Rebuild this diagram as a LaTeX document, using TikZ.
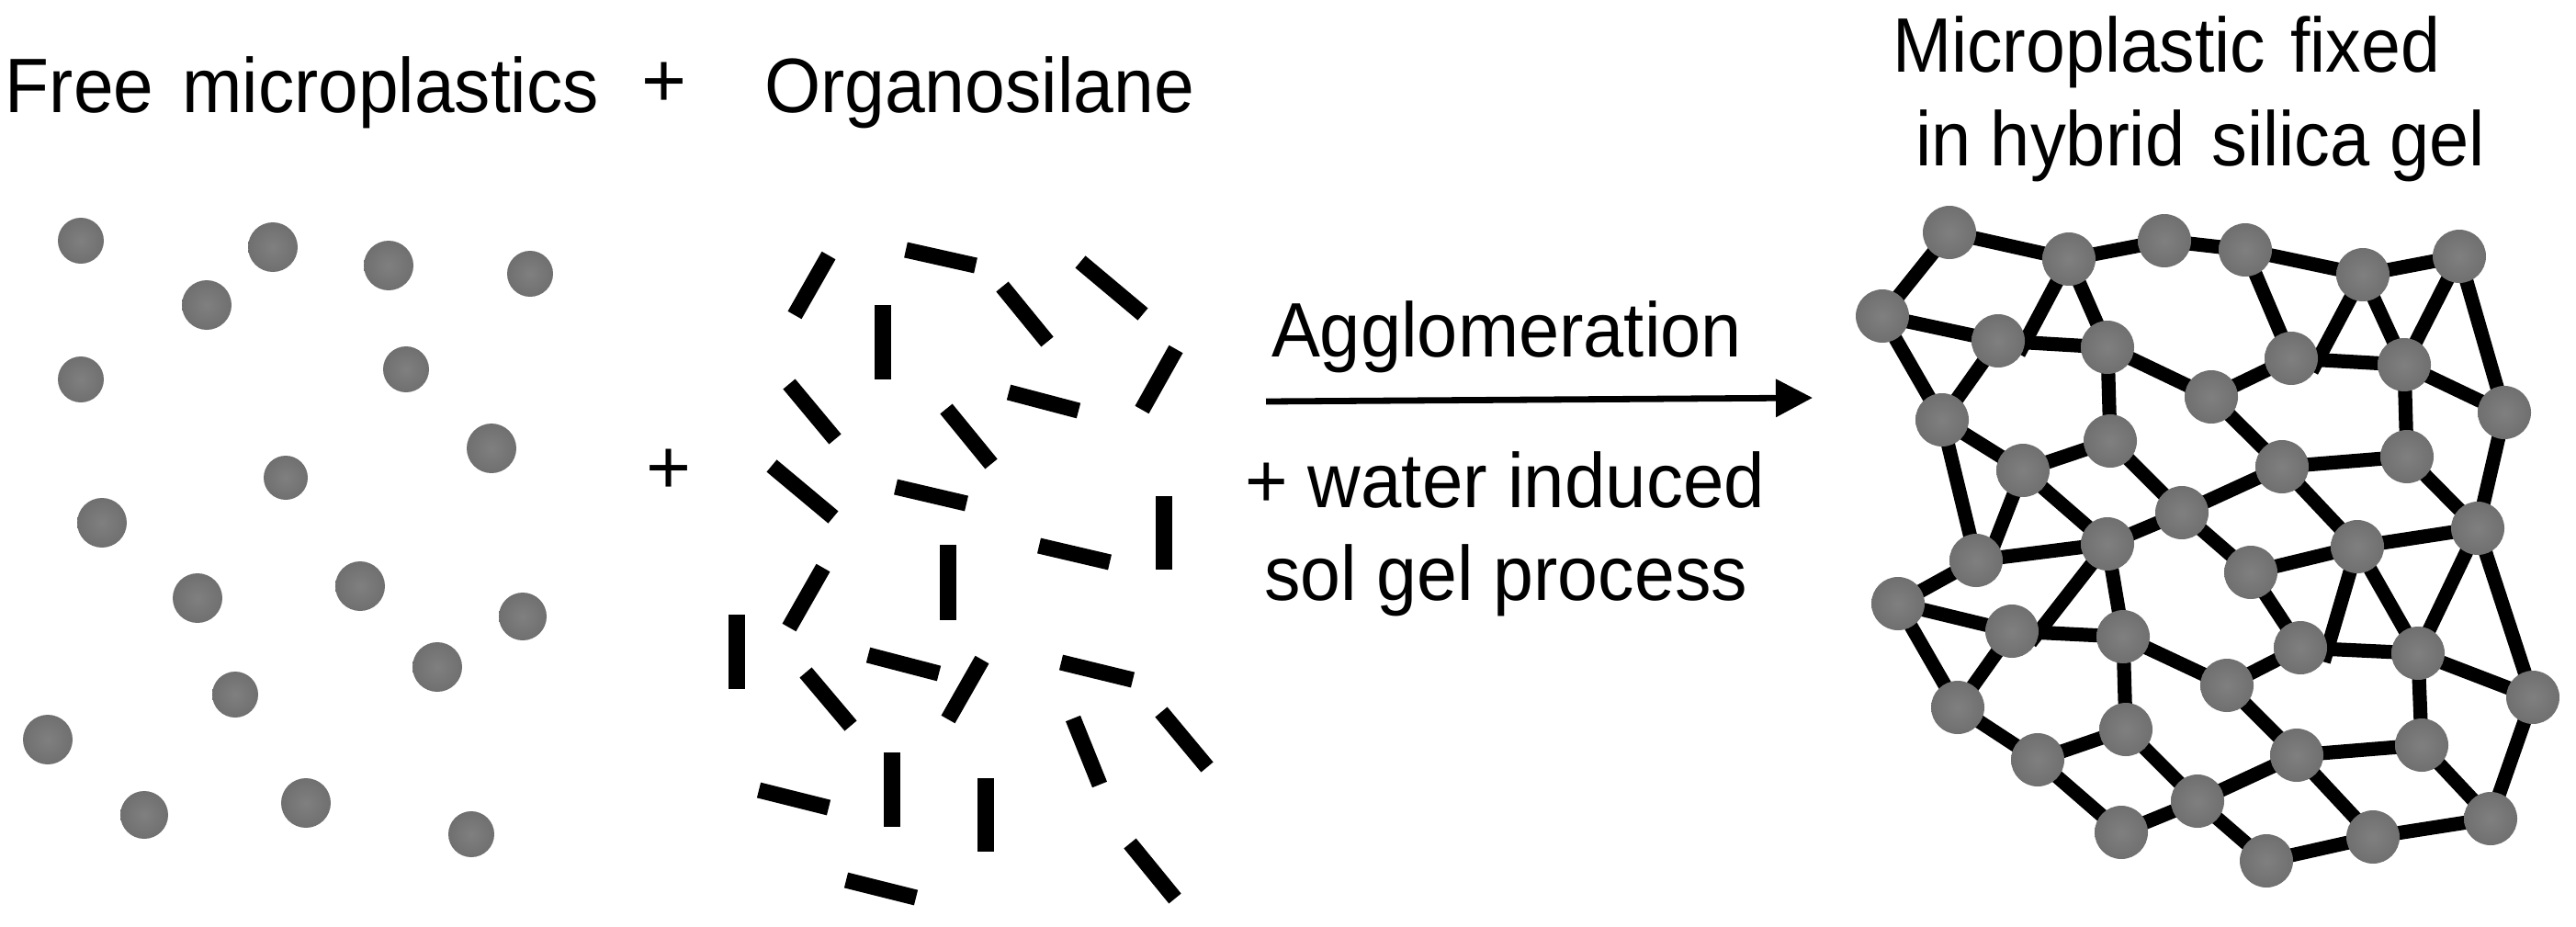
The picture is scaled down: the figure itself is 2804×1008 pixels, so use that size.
\documentclass[tikz,border=0pt]{standalone}
\usepackage{fontspec}
\usepackage{graphicx}
\setmainfont{Liberation Sans}
\usetikzlibrary{arrows.meta,backgrounds}
\definecolor{ballin}{gray}{0.50}
\definecolor{ballmid}{gray}{0.42}
\definecolor{ballout}{gray}{0.32}
\pgfdeclareradialshading{ballshade}{\pgfpoint{0bp}{0bp}}{color(0bp)=(ballin); color(32bp)=(ballmid); color(46bp)=(ballout); color(50bp)=(ballout)}
\newcommand{\fitw}[2]{\resizebox{#1}{\height}{#2}}
\tikzset{
  ball/.style={circle,draw=none,inner sep=0pt,minimum size=#1*0.25pt,shading=ballshade},
  ball/.default=58,
  stick/.style={draw=black,line width=4.3pt},
  netedge/.style={draw=black,line width=3.8pt,shorten <=-4pt,shorten >=-4pt},
  txt/.style={inner sep=0pt,outer sep=0pt,anchor=base west,font=\fontsize{21pt}{25pt}\selectfont},
  plus/.style={inner sep=0pt,outer sep=0pt,anchor=center,font=\fontsize{21pt}{25pt}\selectfont},
  flowarrow/.style={draw=black,line width=1.7pt,-{Triangle[length=10pt,width=10pt]}}
}
\begin{document}
\begin{tikzpicture}[x=0.25pt,y=-0.25pt]
\useasboundingbox (0,0) rectangle (2804,1008);
% titles
\node[txt] (tfree) at (6,122) {\fitw{161.5pt}{Free\hspace{2.5pt} microplastics}};
\node[plus] (ptop) at (723,92) {+};
\node[txt] (torg) at (832,122) {\fitw{117pt}{Organosilane}};
\node[txt] (tfix1) at (2060,78) {\fitw{149pt}{Microplastic\hspace{1.5pt} fixed}};
\node[txt] (tfix2) at (2085,180) {\fitw{155pt}{in hybrid\hspace{2pt} silica gel}};
\node[plus] (pmid) at (728,513) {+};
\node[txt] (tagg) at (1384,388) {\fitw{128pt}{Agglomeration}};
\node[txt] (twat) at (1355,552) {\fitw{141.5pt}{+ water induced}};
\node[txt] (tsol) at (1376,653) {\fitw{131.5pt}{sol gel process}};
% arrow
\coordinate (a0) at (1378,437);
\coordinate (a1) at (1973,433);
\path[flowarrow] (a0) -- (a1);
% free microplastics
\foreach \n/\x/\y/\d in {1/88/262/50,2/297/269/54,3/423/289/54,4/577/298/50,5/225/332/54,
  6/88/413/50,7/442/402/50,8/535/488/54,9/311/520/48,10/111/569/54,
  11/215/651/54,12/392/638/54,13/569/671/52,14/476/726/54,15/256/756/50,
  16/52/805/54,17/157/887/52,18/333/874/54,19/513/908/50}
  \node[ball=\d] (f\n) at (\x,\y) {};
% organosilane sticks
\foreach \xa/\ya/\xb/\yb in {902/278/865/343,986/272/1062/289,1176/285/1244/342,961/332/961/413,
  1091/312/1140/372,1280/380/1243/446,859/418/909/478,1098/427/1174/447,
  1030/445/1079/505,840/507/907/563,975/530/1052/548,1267/540/1267/620,
  1131/594/1208/612,1032/593/1032/675,896/618/859/683,802/669/802/750,
  877/732/926/790,945/713/1022/733,1069/718/1032/783,1155/721/1233/740,
  1168/782/1197/854,1264/775/1314/835,971/819/971/900,1073/847/1073/927,
  826/860/902/879,921/958/997/977,1230/918/1279/978}
  \draw[stick] (\xa,\ya) -- (\xb,\yb);
% network nodes
\foreach \n/\x/\y in {1/2122/253,2/2252/282,3/2356/262,4/2444/272,5/2572/299,6/2677/279,
  7/2049/344,8/2175/371,9/2294/378,10/2494/390,11/2617/397,12/2726/449,
  13/2407/432,14/2114/457,15/2297/480,16/2202/512,17/2484/508,18/2620/497,
  19/2375/558,20/2294/592,21/2151/610,22/2566/595,23/2697/575,
  24/2066/657,25/2450/623,26/2190/687,27/2311/693,28/2504/705,29/2632/711,
  30/2757/759,31/2424/746,32/2131/770,33/2314/794,34/2218/827,35/2500/822,
  36/2636/811,37/2392/872,38/2309/906,39/2467/937,40/2583/911,41/2711/891}
  \node[ball] (n\n) at (\x,\y) {};
% network edges
\begin{scope}[on background layer]
\foreach \a/\b in {1/2,2/3,3/4,4/5,5/6,1/7,2/9,7/8,8/9,7/14,8/14,9/15,9/13,13/10,10/11,11/12,
  4/10,5/11,6/11,6/12,11/18,13/17,12/23,18/23,17/18,17/19,17/22,22/23,
  15/16,15/19,14/16,14/21,16/20,19/20,19/25,20/21,21/24,25/22,22/29,23/29,23/30,
  20/27,24/26,24/32,26/27,26/32,27/33,27/31,31/28,28/29,29/30,25/28,29/36,31/35,
  30/41,36/41,35/36,35/37,35/40,40/41,33/34,33/37,32/34,34/38,37/38,37/39,39/40}
  \draw[netedge] (n\a) -- (n\b);
\draw[netedge] (n2) -- (n8.east);
\draw[netedge] (n5) -- (n10.east);
\draw[netedge] (n16) -- (n21.north east);
\draw[netedge] (n20) -- (n26.east);
\draw[netedge] (n22) -- (n28.east);
\end{scope}
\end{tikzpicture}
\end{document}
